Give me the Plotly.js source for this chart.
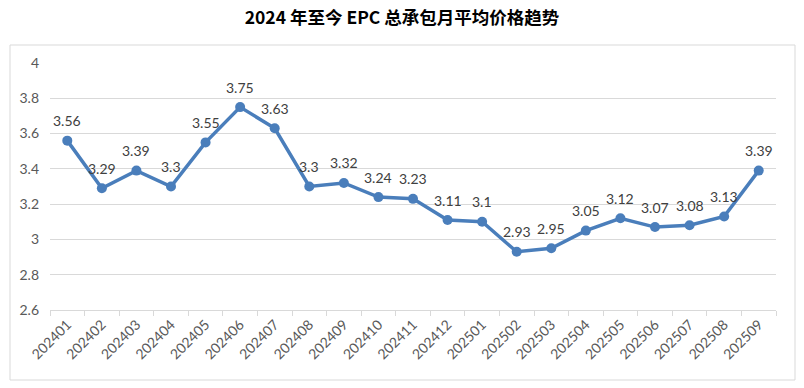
<!DOCTYPE html>
<html><head><meta charset="utf-8">
<script src="https://cdn.plot.ly/plotly-3.0.1.min.js"></script>
<style>html,body{margin:0;padding:0;background:#fff;}#chart{width:804px;height:388px;}</style>
</head><body><div id="chart"></div>
<script>
const months = ["202401","202402","202403","202404","202405","202406","202407","202408","202409","202410","202411","202412","202501","202502","202503","202504","202505","202506","202507","202508","202509"];
const prices = [3.56,3.29,3.39,3.3,3.55,3.75,3.63,3.3,3.32,3.24,3.23,3.11,3.1,2.93,2.95,3.05,3.12,3.07,3.08,3.13,3.39];
const chartTitle = "2024 年至今 EPC 总承包月平均价格趋势";

const FONT = 'Lato, Carlito, "Liberation Sans", sans-serif';
const trace = {
  x: months, y: prices, type: 'scatter', mode: 'lines+markers',
  line: {color: '#4a7ebb', width: 3.5},
  marker: {color: '#4a7ebb', size: 10},
  cliponaxis: false, hoverinfo: 'none'
};
const labels = months.map((m, i) => ({
  x: i, y: prices[i], xref: 'x', yref: 'y', text: String(prices[i]), showarrow: false,
  yanchor: 'middle', xanchor: 'center', yshift: 20,
  font: {family: FONT, size: 14, color: '#404040'}
}));
const layout = {
  width: 804, height: 388,
  margin: {l: 50, r: 28, t: 63, b: 78},
  paper_bgcolor: '#fff', plot_bgcolor: '#fff',
  showlegend: false,
  title: {text: '<b>' + chartTitle + '</b>', x: 0.5, xanchor: 'center', y: 0.953, yanchor: 'middle',
          font: {family: '"Noto Sans CJK SC", sans-serif', size: 17.5, color: '#000'}},
  xaxis: {type: 'category', tickangle: -45, ticks: 'outside', tickson: 'boundaries', ticklen: 5,
          tickcolor: '#d9d9d9', showline: true, linecolor: '#d9d9d9', linewidth: 1, showgrid: false,
          tickfont: {family: FONT, size: 14, color: '#595959'},
          range: [-0.5, 20.5], fixedrange: true},
  yaxis: {range: [2.6, 4], dtick: 0.2, tick0: 2.6, showgrid: true, gridcolor: '#d9d9d9', gridwidth: 1,
          zeroline: false, showline: false, ticks: '', ticklabelstandoff: 10,
          tickfont: {family: FONT, size: 14, color: '#595959'},
          fixedrange: true},
  annotations: labels,
  shapes: [{type: 'rect', xref: 'paper', yref: 'paper',
            x0: -40/726, x1: 1 + 19/726, y0: -70/247, y1: 1 + 18/247,
            line: {color: '#d9d9d9', width: 1}, fillcolor: 'rgba(0,0,0,0)'}]
};
Plotly.newPlot('chart', [trace], layout, {staticPlot: true, displayModeBar: false});
</script></body></html>
